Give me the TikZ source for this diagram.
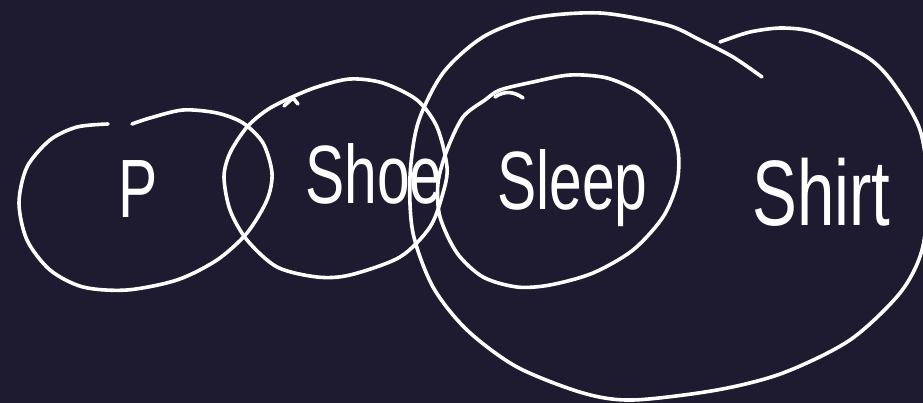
\documentclass[tikz,border=0pt]{standalone}
\usepackage{fontspec}
\setmainfont{Liberation Sans}
\usepackage{tikz}
\definecolor{board}{HTML}{1E1A2F}
\newcommand{\tallword}[1]{\scalebox{0.98}[1.38]{#1}}
\tikzset{
  stroke/.style={draw=white, line width=3.6pt, line cap=round, line join=round},
  word/.style={text=white, anchor=base west, inner sep=0pt, font=\fontsize{60}{60}\selectfont}
}

\begin{document}
\begin{tikzpicture}[x=1pt,y=-1pt]
\fill[board] (0,0) rectangle (923,403);
\useasboundingbox (0,0) rectangle (923,403);
\draw[stroke] plot[smooth] coordinates {(132,124) (150,118) (183,110) (217,113) (243,123) (263,143) (272,173) (267,200) (247,233) (217,260) (177,280) (127,290) (83,287) (50,270) (27,240) (19,203) (27,167) (50,140) (77,127) (108,124)};
\draw[stroke] plot[smooth cycle] coordinates {(290,98) (317,87) (350,79) (383,83) (417,100) (437,127) (447,167) (443,193) (430,227) (400,257) (350,275) (317,277) (277,267) (247,240) (230,210) (224,177) (230,153) (247,127) (267,110)};
\draw[stroke] (284,106) -- (293,98) -- (298,104);
\draw[stroke] plot[smooth cycle] coordinates {(500,90) (533,82) (570,75) (607,78) (640,93) (667,120) (678,150) (677,183) (663,217) (633,250) (593,273) (550,285) (517,287) (483,277) (457,253) (440,217) (438,183) (447,150) (463,117) (485,100)};
\draw[stroke] (495,97) .. controls (505,90) and (515,92) .. (523,98);
\draw[stroke] plot[smooth] coordinates {(762,77) (733,57) (700,40) (667,25) (600,13) (533,18) (483,37) (443,73) (418,123) (410,177) (413,233) (433,287) (467,330) (517,367) (583,393) (633,400) (717,390) (783,373) (850,340) (900,293) (922,250) (928,190) (920,130) (893,83) (867,57) (817,33) (783,28) (750,32) (720,42)};
\node[word] (p) at (118,218) {\tallword{P}};
\node[word] (shoe) at (305,204) {\tallword{Shoe}};
\node[word] (sleep) at (497,210) {\tallword{Sleep}};
\node[word] (shirt) at (752,226) {\scalebox{1.12}[1.55]{Shirt}};
\end{tikzpicture}
\end{document}
